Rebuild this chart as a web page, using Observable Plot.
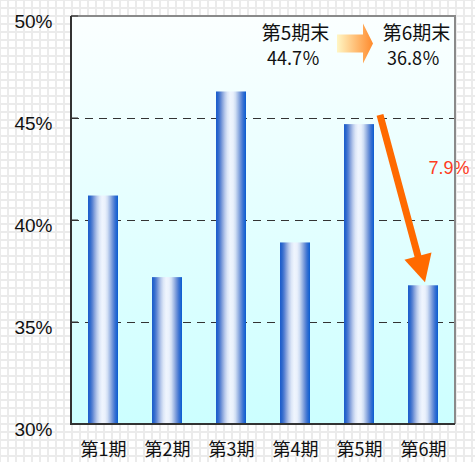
<!DOCTYPE html>
<html><head><meta charset="utf-8">
<script src="https://cdn.jsdelivr.net/npm/d3@7"></script>
<script src="https://cdn.jsdelivr.net/npm/@observablehq/plot@0.6"></script>
<style>
html,body{margin:0;padding:0;}
body{width:475px;height:462px;overflow:hidden;background-color:#fff;
background-image:linear-gradient(#ebebeb 2px,transparent 2px),linear-gradient(90deg,#ebebeb 2px,transparent 2px);
background-size:8px 8px;background-position:-1px -1px;}
#chart svg{display:block;}
</style></head><body>
<div id="chart"></div>
<script>
const periods = ["第1期","第2期","第3期","第4期","第5期","第6期"];
const rates = [41.2, 37.2, 46.3, 38.9, 44.7, 36.8];
const yTicks = [30, 35, 40, 45, 50];
const gridValues = [35, 40, 45];
const fromLabels = ["第5期末", "44.7％"];
const toLabels = ["第6期末", "36.8％"];
const changeLabel = "7.9%";

const data = periods.map((p, i) => ({period: p, rate: rates[i]}));

const cjk = "'Noto Sans CJK JP', sans-serif";
const chart = Plot.plot({
  width: 475, height: 462,
  marginLeft: 71, marginRight: 20, marginTop: 16, marginBottom: 38,
  style: {background: "transparent", fontFamily: "'Liberation Sans', Arial, sans-serif", overflow: "visible"},
  x: {domain: periods, paddingInner: 0.53, paddingOuter: 0.265, label: null},
  y: {domain: [30, 50], label: null},
  marks: [
    Plot.frame({fill: "url(#bgGrad)", stroke: "none"}),
    Plot.ruleY(gridValues, {stroke: "#333", strokeDasharray: "8,6", strokeWidth: 1}),
    Plot.barY(data, {x: "period", y1: 30, y2: "rate", fill: "url(#barGrad)"}),
    Plot.axisY(yTicks, {tickSize: 0, tickPadding: 19, tickFormat: d => d + "%", fontSize: 19, fill: "#111", dy: 5}),
    Plot.axisX({tickSize: 0, tickPadding: 19, fontSize: 18, fill: "#111", fontFamily: cjk}),
    Plot.text([fromLabels[0]], {x: () => "第4期", y: () => 49.15, text: d => d, fontSize: 19, fill: "#111", fontFamily: cjk}),
    Plot.text([fromLabels[1]], {x: () => "第4期", y: () => 47.9, text: d => d, fontSize: 18, fill: "#111", fontFamily: cjk, dx: -2}),
    Plot.text([toLabels[0]], {x: () => "第6期", y: () => 49.15, text: d => d, fontSize: 19, fill: "#111", fontFamily: cjk, dx: -7}),
    Plot.text([toLabels[1]], {x: () => "第6期", y: () => 47.9, text: d => d, fontSize: 18, fill: "#111", fontFamily: cjk, dx: -10}),
    Plot.text([changeLabel], {x: () => "第6期", y: () => 42.55, text: d => d, fontSize: 18, fill: "#ff3c1e", textAnchor: "start", dx: 5})
  ]
});

const svg = d3.select(chart);
const defs = svg.insert("defs", ":first-child");
const bg = defs.append("linearGradient").attr("id", "bgGrad").attr("x1", 0).attr("y1", 0).attr("x2", 0).attr("y2", 1);
bg.append("stop").attr("offset", 0).attr("stop-color", "#fbffff");
bg.append("stop").attr("offset", 1).attr("stop-color", "#ccffff");
const bar = defs.append("linearGradient").attr("id", "barGrad").attr("x1", 0).attr("y1", 0).attr("x2", 1).attr("y2", 0);
[[0,"#1a5ccc"],[0.07,"#2d68cc"],[0.14,"#5580d2"],[0.22,"#8ba6dd"],[0.3,"#bacbec"],[0.38,"#dce6f7"],[0.47,"#eff5fe"],
 [0.57,"#eaf1fc"],[0.65,"#d0def4"],[0.73,"#a3bbe6"],[0.81,"#7396d9"],[0.9,"#3a72d2"],[1,"#0a5cd0"]]
  .forEach(([o,c]) => bar.append("stop").attr("offset", o).attr("stop-color", c));
const ag = defs.append("linearGradient").attr("id", "arrowGrad").attr("x1", 0).attr("y1", 0).attr("x2", 1).attr("y2", 0);
ag.append("stop").attr("offset", 0).attr("stop-color", "#fff6c4");
ag.append("stop").attr("offset", 1).attr("stop-color", "#ff8a2c");

const xs = chart.scale("x"), ys = chart.scale("y");
const cx = p => xs.apply(p) + xs.bandwidth / 2;
const [x0, x1] = xs.range, [yb, yt] = ys.range;
const g = svg.append("g");
// frame borders
g.append("path").attr("d", `M${x0},${yt}H${x1}V${yb}`).attr("fill", "none").attr("stroke", "#8a8a8a").attr("stroke-width", 2);
g.append("path").attr("d", `M${x0},${yt}V${yb}H${x1}`).attr("fill", "none").attr("stroke", "#333").attr("stroke-width", 2);
// inward y ticks
yTicks.forEach(v => g.append("line").attr("x1", x0).attr("x2", x0 + 7).attr("y1", ys.apply(v)).attr("y2", ys.apply(v)).attr("stroke", "#333").attr("stroke-width", 1));

// block arrow between labels (anchored at 第5期 band center)
const ax = cx("第5期") - 22, ay = ys.apply(48.65);
g.append("path")
  .attr("d", `M${ax},${ay-9}H${ax+26}V${ay-20}L${ax+36},${ay}L${ax+26},${ay+20}V${ay+9}H${ax}Z`)
  .attr("fill", "url(#arrowGrad)");

// orange decline arrow from 第5期 level to 第6期 level
const sx = cx("第5期") + 21, sy = ys.apply(45.15);
const tx = cx("第6期") + 2, ty = ys.apply(36.95);
const ang = Math.atan2(ty - sy, tx - sx);
const headL = 27, headW = 14;
const bx = tx - headL * Math.cos(ang), by = ty - headL * Math.sin(ang);
const nx = -Math.sin(ang), ny = Math.cos(ang);
g.append("line").attr("x1", sx).attr("y1", sy).attr("x2", bx + 2*Math.cos(ang)).attr("y2", by + 2*Math.sin(ang))
  .attr("stroke", "#ff6a00").attr("stroke-width", 7);
g.append("path").attr("d", `M${tx},${ty}L${bx+nx*headW},${by+ny*headW}L${bx-nx*headW},${by-ny*headW}Z`).attr("fill", "#ff6a00");

document.getElementById("chart").appendChild(chart);
</script>
</body></html>
